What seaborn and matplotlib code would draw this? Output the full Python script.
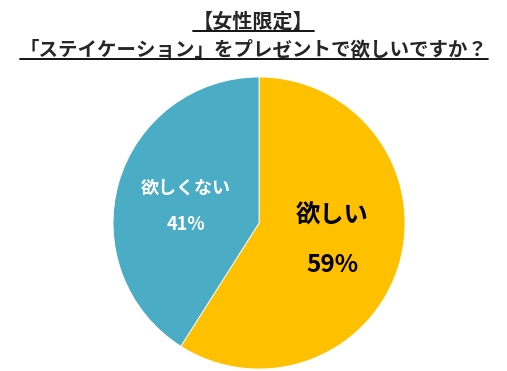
import matplotlib
matplotlib.use("Agg")
import matplotlib.pyplot as plt
import seaborn as sns
from matplotlib.lines import Line2D

title_lines = ["【女性限定】", "「ステイケーション」をプレゼントで欲しいですか？"]
categories = ["欲しい", "欲しくない"]
values = [59, 41]
colors = ["#FFC000", "#4BACC6"]
label_colors = ["black", "white"]

sns.set_theme(style="white")
plt.rcParams["font.family"] = ["Noto Sans CJK JP", "DejaVu Sans"]

fig = plt.figure(figsize=(5.07, 3.71), dpi=100)
ax = fig.add_axes([0.2229, 0.0054, 0.576, 0.787])

wedges, _ = ax.pie(values, colors=colors, startangle=90, counterclock=False,
                   wedgeprops=dict(edgecolor="white", linewidth=0.6))
ax.set_xlim(-1, 1)
ax.set_ylim(-1, 1)
ax.set_aspect("equal")

# label positions inside slices
pos = [(0.50, 0.05, 0.50, -0.29, 17.5), (-0.50, 0.24, -0.50, -0.01, 13)]
for cat, v, c, (x1, y1, x2, y2, fs) in zip(categories, values, label_colors, pos):
    ax.text(x1, y1, cat, ha="center", va="center", color=c, fontsize=fs, fontweight="bold")
    ax.text(x2, y2, f"{v}%", ha="center", va="center", color=c, fontsize=fs, fontweight="bold")

t1 = fig.text(0.5, 0.943, title_lines[0], ha="center", va="center", fontsize=14.5, fontweight="bold")
t2 = fig.text(0.5, 0.866, title_lines[1], ha="center", va="center", fontsize=14, fontweight="bold")

# underline the title lines
fig.canvas.draw()
r = fig.canvas.get_renderer()
for t in (t1, t2):
    bb = t.get_window_extent(r).transformed(fig.transFigure.inverted())
    fig.add_artist(Line2D([bb.x0, bb.x1], [bb.y0 + 0.002, bb.y0 + 0.002],
                          color="black", linewidth=1.3, transform=fig.transFigure))

fig.savefig("out.png", dpi=100)
